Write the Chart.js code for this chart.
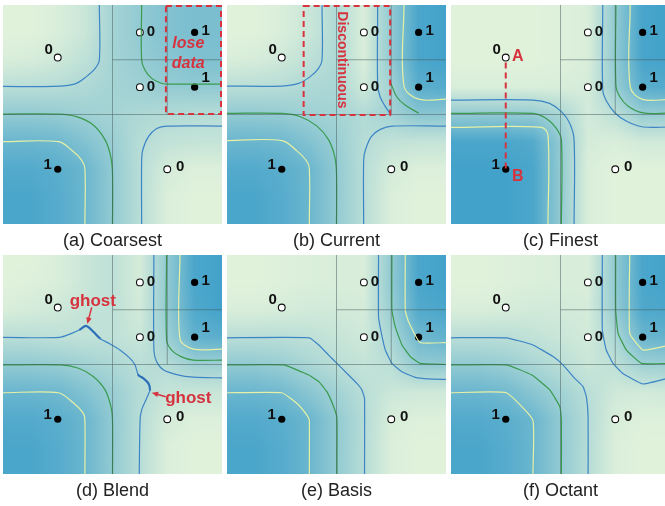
<!DOCTYPE html>
<html>
<head>
<meta charset="utf-8">
<title>Quadtree interpolation comparison</title>
<script src="https://cdn.jsdelivr.net/npm/chart.js@4.4.1/dist/chart.umd.min.js"></script>
<style>
  html, body { margin: 0; padding: 0; background: #fff; overflow: hidden; }
  body { width: 665px; height: 506px; position: relative; }
  canvas { position: absolute; }
</style>
</head>
<body>
<canvas id="p0" width="219" height="247"></canvas>
<canvas id="p1" width="219" height="247"></canvas>
<canvas id="p2" width="219" height="247"></canvas>
<canvas id="p3" width="219" height="247"></canvas>
<canvas id="p4" width="219" height="247"></canvas>
<canvas id="p5" width="219" height="247"></canvas>
<script>
// ---- data (unit square, y up) ----
const captions = ['(a) Coarsest', '(b) Current', '(c) Finest', '(d) Blend', '(e) Basis', '(f) Octant']

// sample points and their values
const sampleX = [0.25, 0.625, 0.875, 0.625, 0.875, 0.25, 0.75]
const sampleY = [0.76, 0.875, 0.875, 0.625, 0.625, 0.25, 0.25]
const sampleValue = [0, 0, 1, 0, 1, 1, 0]

// quadtree cell borders
const cellLines = [
  [[0.5, 0], [0.5, 1]],
  [[0, 0.5], [1, 0.5]],
  [[0.75, 0.5], [0.75, 1]],
  [[0.5, 0.75], [1, 0.75]]
]

// field values on a 9x9 node grid (rows from top v=1 to bottom v=0, columns u=0..1)
const fieldCoarsest = [
  [0, 0, 0.05, 0.15, 0.38, 0.5, 0.6, 0.65, 0.65],
  [0, 0, 0.05, 0.15, 0.38, 0.5, 0.6, 0.65, 0.65],
  [0.05, 0.07, 0.12, 0.22, 0.38, 0.47, 0.55, 0.62, 0.62],
  [0.25, 0.25, 0.27, 0.32, 0.38, 0.42, 0.48, 0.5, 0.5],
  [0.5, 0.5, 0.48, 0.42, 0.38, 0.33, 0.3, 0.28, 0.28],
  [0.75, 0.75, 0.72, 0.6, 0.45, 0.27, 0.2, 0.18, 0.18],
  [0.9, 0.9, 0.85, 0.75, 0.5, 0.26, 0.08, 0.03, 0.03],
  [0.95, 0.95, 0.88, 0.75, 0.5, 0.26, 0.04, 0, 0],
  [0.95, 0.95, 0.88, 0.75, 0.5, 0.26, 0.04, 0, 0]
]
const fieldCurrent = [
  [0, 0, 0.05, 0.15, 0.3, 0.05, 0.5, 0.95, 1],
  [0, 0, 0.05, 0.15, 0.3, 0.05, 0.5, 0.95, 1],
  [0.05, 0.07, 0.12, 0.22, 0.32, 0.05, 0.5, 0.95, 1],
  [0.25, 0.25, 0.27, 0.32, 0.35, 0.12, 0.4, 0.85, 0.88],
  [0.5, 0.5, 0.48, 0.42, 0.38, 0.3, 0.4, 0.55, 0.55],
  [0.75, 0.75, 0.72, 0.6, 0.45, 0.27, 0.2, 0.18, 0.18],
  [0.9, 0.9, 0.85, 0.75, 0.5, 0.26, 0.08, 0.03, 0.03],
  [0.95, 0.95, 0.88, 0.75, 0.5, 0.26, 0.04, 0, 0],
  [0.95, 0.95, 0.88, 0.75, 0.5, 0.26, 0.04, 0, 0]
]
const fieldFinest = [
  [0, 0, 0, 0, 0.02, 0.05, 0.5, 0.97, 1],
  [0, 0, 0, 0, 0.02, 0.05, 0.5, 0.97, 1],
  [0, 0, 0, 0, 0.02, 0.05, 0.5, 0.97, 1],
  [0.05, 0.05, 0.05, 0.05, 0.05, 0.08, 0.45, 0.85, 0.9],
  [0.5, 0.5, 0.5, 0.48, 0.35, 0.1, 0.23, 0.47, 0.47],
  [0.95, 0.95, 0.95, 0.9, 0.5, 0.08, 0.05, 0.1, 0.1],
  [1, 1, 1, 0.95, 0.5, 0.05, 0, 0, 0],
  [1, 1, 1, 0.95, 0.5, 0.05, 0, 0, 0],
  [1, 1, 1, 0.95, 0.5, 0.05, 0, 0, 0]
]
const fieldBlend = [
  [0, 0, 0.05, 0.15, 0.22, 0.08, 0.5, 0.95, 1],
  [0, 0.02, 0.05, 0.15, 0.22, 0.08, 0.5, 0.95, 1],
  [0.05, 0.08, 0.12, 0.18, 0.22, 0.1, 0.5, 0.92, 1],
  [0.25, 0.25, 0.22, 0.2, 0.22, 0.15, 0.42, 0.8, 0.85],
  [0.5, 0.5, 0.47, 0.4, 0.33, 0.25, 0.28, 0.42, 0.42],
  [0.75, 0.75, 0.72, 0.6, 0.45, 0.28, 0.18, 0.16, 0.16],
  [0.9, 0.9, 0.85, 0.75, 0.5, 0.27, 0.08, 0.03, 0.03],
  [0.95, 0.95, 0.88, 0.75, 0.5, 0.26, 0.04, 0, 0],
  [0.95, 0.95, 0.88, 0.75, 0.5, 0.26, 0.04, 0, 0]
]
const fieldBasis = [
  [0, 0, 0.02, 0.04, 0.05, 0.05, 0.5, 0.95, 1],
  [0, 0, 0.02, 0.04, 0.05, 0.05, 0.5, 0.95, 1],
  [0.05, 0.05, 0.07, 0.1, 0.1, 0.08, 0.45, 0.9, 0.95],
  [0.25, 0.25, 0.25, 0.22, 0.17, 0.12, 0.35, 0.72, 0.8],
  [0.5, 0.5, 0.45, 0.35, 0.25, 0.18, 0.25, 0.5, 0.5],
  [0.75, 0.75, 0.7, 0.55, 0.4, 0.25, 0.14, 0.12, 0.12],
  [0.9, 0.9, 0.85, 0.75, 0.5, 0.28, 0.06, 0.02, 0.02],
  [0.95, 0.95, 0.88, 0.75, 0.5, 0.27, 0.04, 0, 0],
  [0.95, 0.95, 0.88, 0.75, 0.5, 0.27, 0.04, 0, 0]
]
const fieldOctant = [
  [0, 0, 0.02, 0.04, 0.05, 0.05, 0.5, 0.95, 1],
  [0, 0, 0.02, 0.04, 0.05, 0.05, 0.5, 0.95, 1],
  [0.05, 0.05, 0.07, 0.1, 0.1, 0.08, 0.47, 0.92, 0.95],
  [0.25, 0.25, 0.25, 0.2, 0.15, 0.1, 0.33, 0.75, 0.8],
  [0.5, 0.5, 0.45, 0.35, 0.25, 0.15, 0.22, 0.42, 0.45],
  [0.75, 0.75, 0.7, 0.55, 0.4, 0.25, 0.12, 0.1, 0.12],
  [0.9, 0.9, 0.85, 0.75, 0.5, 0.28, 0.06, 0.02, 0.02],
  [0.95, 0.95, 0.88, 0.75, 0.5, 0.27, 0.04, 0, 0],
  [0.95, 0.95, 0.88, 0.75, 0.5, 0.27, 0.04, 0, 0]
]

// iso-lines
const coarsestBlueTL = [[0, 0.628], [0.225, 0.628], [0.329, 0.64], [0.382, 0.674], [0.42, 0.709], [0.44, 0.749], [0.44, 1]]
const coarsestGreenBL = [[0, 0.502], [0.253, 0.502], [0.336, 0.49], [0.412, 0.452], [0.466, 0.384], [0.492, 0.308], [0.5, 0.23], [0.5, 0]]
const coarsestYellowBL = [[0, 0.376], [0.253, 0.376], [0.313, 0.338], [0.359, 0.292], [0.374, 0.253], [0.374, 0]]
const coarsestBlueBR = [[1, 0.447], [0.747, 0.447], [0.702, 0.436], [0.664, 0.399], [0.638, 0.338], [0.633, 0.292], [0.633, 0]]
const coarsestGreenTR = [[0.633, 1], [0.633, 0.749], [0.648, 0.703], [0.679, 0.665], [0.717, 0.645], [0.747, 0.639], [1, 0.639]]

const currentBlueTL = [[0, 0.63], [0.251, 0.63], [0.327, 0.642], [0.38, 0.673], [0.418, 0.711], [0.434, 0.749], [0.434, 1]]
const currentGreenBL = [[0, 0.505], [0.251, 0.505], [0.335, 0.49], [0.411, 0.447], [0.464, 0.384], [0.492, 0.308], [0.5, 0.232], [0.5, 0]]
const currentYellowBL = [[0, 0.381], [0.251, 0.381], [0.318, 0.335], [0.362, 0.29], [0.376, 0.254], [0.376, 0]]
const currentBlueBR = [[1, 0.447], [0.754, 0.447], [0.7, 0.432], [0.659, 0.399], [0.632, 0.338], [0.624, 0.292], [0.624, 0]]
const currentBlueTR = [[0.688, 1], [0.688, 0.635], [0.699, 0.581], [0.719, 0.543], [0.744, 0.505]]
const currentGreenTR = [[0.749, 0.64], [0.775, 0.581], [0.813, 0.543], [0.874, 0.507]]
const currentYellowTR = [[0.808, 1], [0.808, 0.63], [0.874, 0.57], [1, 0.57]]

const finestBlueBL = [[0, 0.566], [0.374, 0.566], [0.45, 0.551], [0.504, 0.513], [0.542, 0.46], [0.562, 0.384], [0.562, 0]]
const finestGreenBL = [[0, 0.505], [0.374, 0.505], [0.435, 0.482], [0.481, 0.437], [0.504, 0.384], [0.504, 0]]
const finestYellowBL = [[0, 0.441], [0.412, 0.441], [0.443, 0.405], [0.443, 0]]
const finestBlueTR = [[0.693, 1], [0.693, 0.612], [0.711, 0.559], [0.749, 0.507], [0.802, 0.469], [0.877, 0.443], [1, 0.443]]
const finestGreenTR = [[0.753, 1], [0.753, 0.635], [0.771, 0.581], [0.809, 0.538], [0.877, 0.507], [1, 0.507]]
const finestYellowTR = [[0.818, 1], [0.818, 0.627], [0.874, 0.569], [1, 0.569]]

const blendBlue = [[0, 0.624], [0.257, 0.624], [0.313, 0.642], [0.352, 0.66], [0.379, 0.676], [0.412, 0.65], [0.443, 0.619], [0.489, 0.594], [0.534, 0.566], [0.58, 0.528], [0.603, 0.498], [0.618, 0.452], [0.641, 0.437], [0.664, 0.414], [0.671, 0.384], [0.656, 0.346], [0.633, 0.292], [0.626, 0.247], [0.622, 0]]
const blendBlueTR = [[0.689, 1], [0.689, 0.566], [0.701, 0.514], [0.732, 0.476], [0.793, 0.454], [0.869, 0.442], [1, 0.439]]
const blendGreenTR = [[0.747, 1], [0.747, 0.612], [0.77, 0.566], [0.816, 0.535], [0.869, 0.52], [1, 0.52]]
const blendYellowTR = [[0.808, 1], [0.808, 0.616], [0.869, 0.57], [1, 0.57]]
const blendGreenBL = [[0, 0.498], [0.26, 0.498], [0.345, 0.483], [0.412, 0.445], [0.466, 0.384], [0.493, 0.308], [0.5, 0.247], [0.5, 0]]
const blendYellowBL = [[0, 0.371], [0.253, 0.371], [0.321, 0.325], [0.367, 0.277], [0.374, 0.247], [0.374, 0]]

const basisBlue = [[0, 0.622], [0.376, 0.622], [0.419, 0.589], [0.464, 0.543], [0.502, 0.505], [0.548, 0.459], [0.594, 0.413], [0.616, 0.384], [0.628, 0.345], [0.628, 0]]
const basisGreenBL = [[0, 0.498], [0.259, 0.498], [0.373, 0.452], [0.419, 0.422], [0.456, 0.376], [0.487, 0.307], [0.502, 0.254], [0.502, 0]]
const basisYellowBL = [[0, 0.371], [0.251, 0.371], [0.32, 0.322], [0.365, 0.269], [0.376, 0.246], [0.376, 0]]
const basisBlueTR = [[0.692, 1], [0.692, 0.718], [0.705, 0.642], [0.723, 0.566], [0.753, 0.505], [0.799, 0.467], [0.86, 0.441], [0.921, 0.434], [1, 0.432]]
const basisGreenTR = [[0.753, 1], [0.753, 0.749], [0.768, 0.673], [0.799, 0.589], [0.837, 0.536], [0.882, 0.505], [1, 0.5]]
const basisYellowTR = [[0.814, 1], [0.814, 0.746], [0.829, 0.695], [0.882, 0.6], [1, 0.6]]

const octantBlue = [[0, 0.622], [0.253, 0.622], [0.374, 0.589], [0.466, 0.536], [0.511, 0.498], [0.565, 0.437], [0.603, 0.399], [0.618, 0.353], [0.626, 0.262], [0.626, 0]]
const octantGreenBL = [[0, 0.498], [0.253, 0.498], [0.369, 0.452], [0.451, 0.384], [0.497, 0.307], [0.504, 0.246], [0.504, 0]]
const octantYellowBL = [[0, 0.371], [0.253, 0.371], [0.374, 0.246], [0.374, 0]]
const octantBlueTR = [[0.691, 1], [0.691, 0.658], [0.709, 0.566], [0.74, 0.505], [0.785, 0.459], [0.877, 0.411], [1, 0.44]]
const octantGreenTR = [[0.752, 1], [0.752, 0.749], [0.763, 0.642], [0.801, 0.566], [0.87, 0.505], [1, 0.505]]
const octantYellowTR = [[0.816, 1], [0.816, 0.642], [0.877, 0.566], [1, 0.589]]

// ---- styles ----
const FONT = '"Liberation Sans", Arial, Helvetica, sans-serif'
const RED = '#d6333f'
const LOW = [225, 242, 219]   // value 0
const HIGH = [67, 162, 202]   // value 1
const lineStyle = {
  blue: { color: '#3d85c6', width: 1.2 },
  green: { color: '#3a9a4e', width: 1.2 },
  yellow: { color: '#e6f0a6', width: 1.2 }
}
// segments of the blend contour drawn heavier (the "ghost" artefacts)
const ghostSegments = [3, 4, 5, 11, 12, 13]
const panelPos = [[3, 5], [227, 5], [451, 5], [3, 255], [227, 255], [451, 255]]
// label offsets (px) for each sample value label
const labelOffset = [[-9, -8], [11, -1], [11, -2], [11, 0], [11, -9], [-10, -4], [13, -2]]

function pts(list) {
  return list.map(p => ({ x: p[0], y: p[1] }))
}

function toPx(chart, u, v) {
  return [chart.scales.x.getPixelForValue(u), chart.scales.y.getPixelForValue(v)]
}

// red annotations for individual panels
function noteLoseData(chart, ctx) {
  const a = toPx(chart, 0.744, 1), b = toPx(chart, 1, 0.502)
  ctx.strokeStyle = RED
  ctx.lineWidth = 2
  ctx.setLineDash([6, 4])
  ctx.strokeRect(a[0], a[1] + 1, b[0] - a[0] - 1, b[1] - a[1] - 1)
  ctx.setLineDash([])
  ctx.fillStyle = RED
  ctx.font = 'italic bold 16px ' + FONT
  ctx.textAlign = 'center'
  ctx.textBaseline = 'middle'
  let p = toPx(chart, 0.846, 0.825)
  ctx.fillText('lose', p[0], p[1])
  p = toPx(chart, 0.846, 0.734)
  ctx.fillText('data', p[0], p[1])
}

function noteDiscontinuous(chart, ctx) {
  const a = toPx(chart, 0.35, 1), b = toPx(chart, 0.745, 0.498)
  ctx.strokeStyle = RED
  ctx.lineWidth = 2
  ctx.setLineDash([6, 4])
  ctx.strokeRect(a[0], a[1] + 1, b[0] - a[0], b[1] - a[1] - 1)
  ctx.setLineDash([])
  const p = toPx(chart, 0.525, 0.749)
  ctx.save()
  ctx.translate(p[0], p[1])
  ctx.rotate(Math.PI / 2)
  ctx.fillStyle = RED
  ctx.font = 'bold 14px ' + FONT
  ctx.textAlign = 'center'
  ctx.textBaseline = 'middle'
  ctx.fillText('Discontinuous', 0, 0)
  ctx.restore()
}

function noteAB(chart, ctx) {
  const a = toPx(chart, sampleX[0], sampleY[0]), b = toPx(chart, sampleX[5], sampleY[5])
  ctx.strokeStyle = RED
  ctx.lineWidth = 2
  ctx.setLineDash([6, 4])
  ctx.beginPath()
  ctx.moveTo(a[0], a[1] + 5)
  ctx.lineTo(b[0], b[1])
  ctx.stroke()
  ctx.setLineDash([])
  ctx.fillStyle = RED
  ctx.font = 'bold 16px ' + FONT
  ctx.textAlign = 'center'
  ctx.textBaseline = 'middle'
  ctx.fillText('A', a[0] + 12, a[1] - 1)
  ctx.fillText('B', b[0] + 12, b[1] + 7)
}

function arrow(ctx, from, to) {
  const ang = Math.atan2(to[1] - from[1], to[0] - from[0])
  ctx.beginPath()
  ctx.moveTo(from[0], from[1])
  ctx.lineTo(to[0] - 4 * Math.cos(ang), to[1] - 4 * Math.sin(ang))
  ctx.stroke()
  ctx.beginPath()
  ctx.moveTo(to[0], to[1])
  ctx.lineTo(to[0] - 7 * Math.cos(ang - 0.4), to[1] - 7 * Math.sin(ang - 0.4))
  ctx.lineTo(to[0] - 7 * Math.cos(ang + 0.4), to[1] - 7 * Math.sin(ang + 0.4))
  ctx.closePath()
  ctx.fill()
}

function noteGhost(chart, ctx) {
  ctx.strokeStyle = RED
  ctx.fillStyle = RED
  ctx.lineWidth = 1.5
  arrow(ctx, toPx(chart, 0.405, 0.761), toPx(chart, 0.385, 0.685))
  arrow(ctx, toPx(chart, 0.743, 0.353), toPx(chart, 0.679, 0.371))
  ctx.font = 'bold 17px ' + FONT
  ctx.textAlign = 'center'
  ctx.textBaseline = 'middle'
  let p = toPx(chart, 0.41, 0.787)
  ctx.fillText('ghost', p[0], p[1])
  p = toPx(chart, 0.846, 0.346)
  ctx.fillText('ghost', p[0], p[1])
}

const panels = [
  { field: fieldCoarsest, tension: 0.35, note: noteLoseData,
    lines: [[coarsestBlueTL, 'blue'], [coarsestGreenBL, 'green'], [coarsestYellowBL, 'yellow'], [coarsestBlueBR, 'blue'], [coarsestGreenTR, 'green']] },
  { field: fieldCurrent, tension: 0.35, note: noteDiscontinuous,
    lines: [[currentBlueTL, 'blue'], [currentGreenBL, 'green'], [currentYellowBL, 'yellow'], [currentBlueBR, 'blue'], [currentBlueTR, 'blue'], [currentGreenTR, 'green'], [currentYellowTR, 'yellow']] },
  { field: fieldFinest, tension: 0.35, note: noteAB,
    lines: [[finestBlueBL, 'blue'], [finestGreenBL, 'green'], [finestYellowBL, 'yellow'], [finestBlueTR, 'blue'], [finestGreenTR, 'green'], [finestYellowTR, 'yellow']] },
  { field: fieldBlend, tension: 0.3, note: noteGhost,
    lines: [[blendBlue, 'blue', ghostSegments], [blendBlueTR, 'blue'], [blendGreenTR, 'green'], [blendYellowTR, 'yellow'], [blendGreenBL, 'green'], [blendYellowBL, 'yellow']] },
  { field: fieldBasis, tension: 0.12, note: null,
    lines: [[basisBlue, 'blue'], [basisGreenBL, 'green'], [basisYellowBL, 'yellow'], [basisBlueTR, 'blue'], [basisGreenTR, 'green'], [basisYellowTR, 'yellow']] },
  { field: fieldOctant, tension: 0.12, note: null,
    lines: [[octantBlue, 'blue'], [octantGreenBL, 'green'], [octantYellowBL, 'yellow'], [octantBlueTR, 'blue'], [octantGreenTR, 'green'], [octantYellowTR, 'yellow']] }
]

// paints the interpolated field behind the datasets
function heatPlugin(field) {
  let cache = null
  return {
    id: 'heat',
    beforeDatasetsDraw(chart) {
      const { left, top, width, height } = chart.chartArea
      const w = Math.round(width), h = Math.round(height)
      if (!cache) {
        cache = document.createElement('canvas')
        cache.width = w
        cache.height = h
        const octx = cache.getContext('2d')
        const img = octx.createImageData(w, h)
        const xs = chart.scales.x, ys = chart.scales.y
        const n = field.length - 1
        for (let j = 0; j < h; j++) {
          const v = ys.getValueForPixel(top + (j + 0.5) * height / h)
          const gy = Math.min(Math.max((1 - v) * n, 0), n)
          const r = Math.min(Math.floor(gy), n - 1), fy = gy - r
          for (let i = 0; i < w; i++) {
            const u = xs.getValueForPixel(left + (i + 0.5) * width / w)
            const gx = Math.min(Math.max(u * n, 0), n)
            const c = Math.min(Math.floor(gx), n - 1), fx = gx - c
            const top0 = field[r][c] * (1 - fx) + field[r][c + 1] * fx
            const bot0 = field[r + 1][c] * (1 - fx) + field[r + 1][c + 1] * fx
            const val = top0 * (1 - fy) + bot0 * fy
            const k = (j * w + i) * 4
            img.data[k] = LOW[0] + (HIGH[0] - LOW[0]) * val
            img.data[k + 1] = LOW[1] + (HIGH[1] - LOW[1]) * val
            img.data[k + 2] = LOW[2] + (HIGH[2] - LOW[2]) * val
            img.data[k + 3] = 255
          }
        }
        octx.putImageData(img, 0, 0)
      }
      chart.ctx.drawImage(cache, left, top, width, height)
    }
  }
}

// value labels next to samples, plus the panel's red notes
function notesPlugin(note) {
  return {
    id: 'notes',
    afterDatasetsDraw(chart) {
      const ctx = chart.ctx
      ctx.save()
      ctx.fillStyle = '#111'
      ctx.font = 'bold 15px ' + FONT
      ctx.textAlign = 'center'
      ctx.textBaseline = 'middle'
      sampleValue.forEach((val, i) => {
        const p = toPx(chart, sampleX[i], sampleY[i])
        ctx.fillText(String(val), p[0] + labelOffset[i][0], p[1] + labelOffset[i][1])
      })
      if (note) note(chart, ctx)
      ctx.restore()
    }
  }
}

panels.forEach((panel, idx) => {
  const canvas = document.getElementById('p' + idx)
  canvas.style.left = panelPos[idx][0] + 'px'
  canvas.style.top = panelPos[idx][1] + 'px'

  const datasets = []
  cellLines.forEach(seg => {
    datasets.push({
      data: pts(seg), showLine: true, pointRadius: 0,
      borderColor: 'rgba(70, 90, 90, 0.5)', borderWidth: 1
    })
  })
  panel.lines.forEach(([line, kind, heavy]) => {
    const st = lineStyle[kind]
    const ds = {
      data: pts(line), showLine: true, pointRadius: 0, tension: panel.tension,
      borderColor: st.color, borderWidth: st.width,
      borderCapStyle: 'round', borderJoinStyle: 'round'
    }
    if (heavy) {
      ds.segment = {
        borderWidth: c => heavy.includes(c.p0DataIndex) ? 2.2 : st.width,
        borderColor: c => heavy.includes(c.p0DataIndex) ? '#2d6fb8' : st.color
      }
    }
    datasets.push(ds)
  })
  const open = [], filled = []
  sampleValue.forEach((val, i) => {
    (val ? filled : open).push({ x: sampleX[i], y: sampleY[i] })
  })
  datasets.push({
    data: open, pointRadius: 3.4, pointBorderWidth: 1.1,
    pointBackgroundColor: '#ffffff', pointBorderColor: '#111'
  })
  datasets.push({
    data: filled, pointRadius: 3.6, pointBorderWidth: 0,
    pointBackgroundColor: '#000', pointBorderColor: '#000'
  })

  new Chart(canvas, {
    type: 'scatter',
    data: { datasets: datasets },
    options: {
      responsive: false,
      animation: false,
      events: [],
      layout: { padding: 0, autoPadding: false },
      scales: {
        x: { type: 'linear', min: 0, max: 1, display: false },
        y: { type: 'linear', min: 0, max: 1, display: false }
      },
      plugins: {
        legend: { display: false },
        tooltip: { enabled: false },
        title: {
          display: true,
          position: 'bottom',
          text: captions[idx],
          color: '#222',
          font: { family: FONT, size: 18, weight: 'normal', lineHeight: '22px' },
          padding: { top: 6, bottom: 0 }
        }
      }
    },
    plugins: [heatPlugin(panel.field), notesPlugin(panel.note)]
  })
})
</script>
</body>
</html>
